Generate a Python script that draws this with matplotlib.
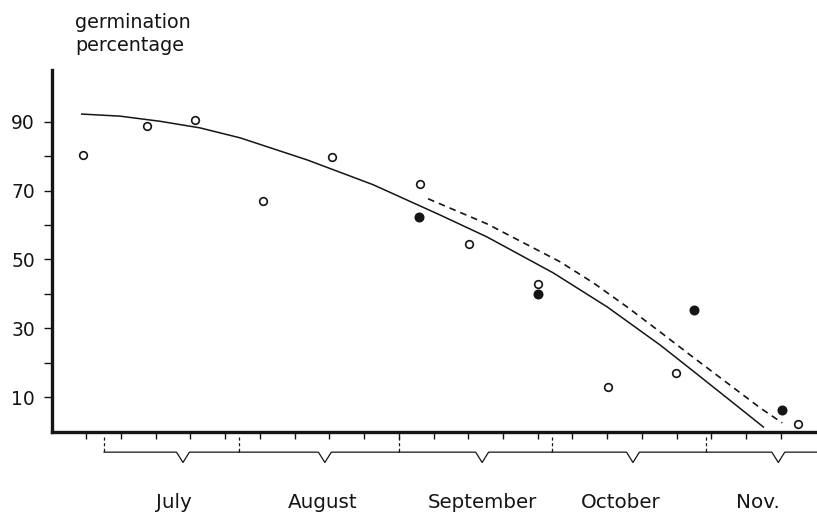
import numpy as np
import matplotlib
matplotlib.use("Agg")
import matplotlib.pyplot as plt

# =========================
# DATOS (x en días desde el eje, y en %)
# =========================
open_x = [6.4, 19.2, 28.9, 42.7, 56.5, 74.2, 84.2, 98.0, 112.2, 125.9, 150.4]
open_y = [80.4, 88.8, 90.6, 67.0, 79.7, 71.9, 54.5, 42.9, 12.9, 17.1, 2.2]

filled_x = [74.1, 98.0, 129.5, 147.3]
filled_y = [62.3, 39.9, 35.3, 6.3]

solid_x = [6.1, 13.8, 21.9, 29.9, 38.0, 51.5, 64.8, 78.3, 87.8, 101.1,
           112.0, 122.7, 129.3, 136.2, 143.5]
solid_y = [92.2, 91.6, 90.1, 88.2, 85.3, 78.9, 71.7, 62.9, 56.5, 46.1,
           36.2, 25.1, 17.6, 9.7, 1.3]

dashed_x = [75.9, 87.8, 102.5, 109.2, 116.0, 122.7, 129.3, 136.2, 142.9, 147.3]
dashed_y = [67.6, 60.3, 49.3, 43.2, 36.2, 28.9, 21.6, 14.1, 6.8, 2.5]

months = ['July', 'August', 'September', 'October', 'Nov.']
month_bounds = [10.6, 37.8, 70.1, 100.9, 132.0, 157.0]
brace_tips = [26.5, 55.1, 86.8, 117.2, 146.5]
label_pos = [24.7, 54.7, 86.8, 114.8, 142.4]

week_ticks = list(range(7, 148, 7))
y_major = [10, 30, 50, 70, 90]
y_minor = [20, 40, 60, 80]

# =========================
# FIGURA
# =========================
plt.rcParams['font.family'] = 'DejaVu Sans'
ink = '#151515'

fig = plt.figure(figsize=(8.17, 5.12), dpi=100)
ax = fig.add_axes([51.5/817, 80.5/512, 765.5/817, 361.5/512])

ax.plot(solid_x, solid_y, '-', color=ink, lw=1.1)
ax.plot(dashed_x, dashed_y, color=ink, lw=1.2, linestyle=(0, (4, 3)))

ax.plot(open_x, open_y, 'o', ms=5.5, mfc='white', mec=ink, mew=1.2, clip_on=False)
ax.plot(filled_x, filled_y, 'o', ms=6.2, mfc=ink, mec=ink, clip_on=False)

ax.set_xlim(0, 154.3)
ax.set_ylim(0, 105)

for s in ['top', 'right']:
    ax.spines[s].set_visible(False)
for s in ['bottom', 'left']:
    ax.spines[s].set_linewidth(2.4)
    ax.spines[s].set_color(ink)

ax.set_xticks(week_ticks)
ax.set_xticklabels([])
ax.tick_params(axis='x', direction='out', length=5, width=1, color=ink)

ax.set_yticks(y_major)
ax.set_yticks(y_minor, minor=True)
ax.tick_params(axis='y', which='both', direction='out', length=6, width=1,
               color=ink, labelsize=13.5, labelcolor=ink, pad=6)

# =========================
# LLAVES DE MESES
# =========================
yb = -6.0
ytip = -9.0
for i, m in enumerate(months):
    left = month_bounds[i]
    right = month_bounds[i + 1]
    tip = brace_tips[i]
    ax.plot([left, left], [-1.5, yb], color=ink, lw=0.9,
            linestyle=(0, (2.5, 2)), clip_on=False)
    ax.plot([left, tip - 1.3, tip, tip + 1.3, right],
            [yb, yb, ytip, yb, yb], color=ink, lw=0.9, clip_on=False)
    ax.text(label_pos[i], -20.5, m, ha='center', va='center',
            fontsize=14.3, color=ink, clip_on=False)

fig.text(75/817, 1 - 13/512, 'germination\npercentage', ha='left', va='top',
         fontsize=13.8, color=ink, linespacing=1.25)

fig.savefig('out.png', dpi=100)
